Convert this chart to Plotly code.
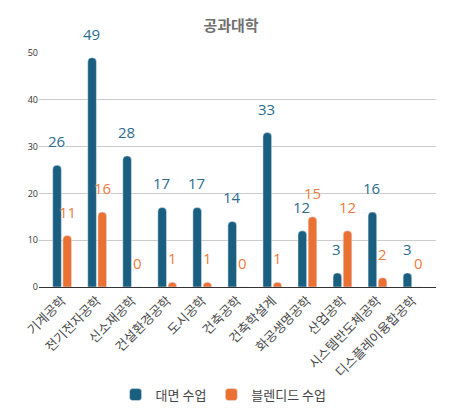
import plotly.graph_objects as go

# 학과별 수업 형태
departments = ["기계공학", "전기전자공학", "신소재공학", "건설환경공학", "도시공학", "건축공학",
               "건축학설계", "화공생명공학", "산업공학", "시스템반도체공학", "디스플레이융합공학"]
face_to_face = [26, 49, 28, 17, 17, 14, 33, 12, 3, 16, 3]
blended = [11, 16, 0, 1, 1, 0, 1, 15, 12, 2, 0]

blue = "#1a5e80"
orange = "#ea7034"
font = "Noto Sans CJK KR"

fig = go.Figure()
fig.add_trace(go.Bar(x=departments, y=face_to_face, name="대면 수업", marker_color=blue))
fig.add_trace(go.Bar(x=departments, y=blended, name="블렌디드 수업", marker_color=orange))

# value labels floating above the bars
for vals, shift, color in [(face_to_face, -5.5, "#2b6c8e"), (blended, 5.5, "#ef7c3e")]:
    for dept, v in zip(departments, vals):
        fig.add_annotation(
            x=dept, y=v, text=str(v), showarrow=False,
            xshift=shift, yshift=24, yanchor="middle",
            font=dict(family="Open Sans", size=15, color=color, shadow="0 0 2px white"),
        )

# page body has an 8px margin, so the figure is a bit smaller than the window
fig.update_layout(
    width=446, height=410,
    margin=dict(l=31, r=18, t=45, b=131, autoexpand=False),
    paper_bgcolor="white", plot_bgcolor="white",
    title=dict(text="<b>공과대학</b>", x=0.5, xanchor="center", y=0.957, yanchor="middle",
               font=dict(family=font, size=15, color="#707070")),
    barmode="group", bargap=0.42, bargroupgap=0.15, barcornerradius=4,
    font=dict(family=font),
    legend=dict(orientation="h", x=0.465, xanchor="center", y=-0.46, yanchor="middle",
                font=dict(family=font, size=13, color="#444"), itemwidth=30),
    showlegend=True,
)
fig.update_xaxes(
    range=[-0.66, 10.67], tickangle=-45, showline=True, linecolor="#333", linewidth=1,
    ticks="", automargin=False, tickfont=dict(family=font, size=13, color="#4a4a4a"),
)
fig.update_yaxes(
    range=[0, 50], dtick=10, showgrid=True, gridcolor="#cccccc", zeroline=False,
    automargin=False, tickfont=dict(family="Open Sans", size=9, color="#333"),
)

fig.write_html("out.html")
